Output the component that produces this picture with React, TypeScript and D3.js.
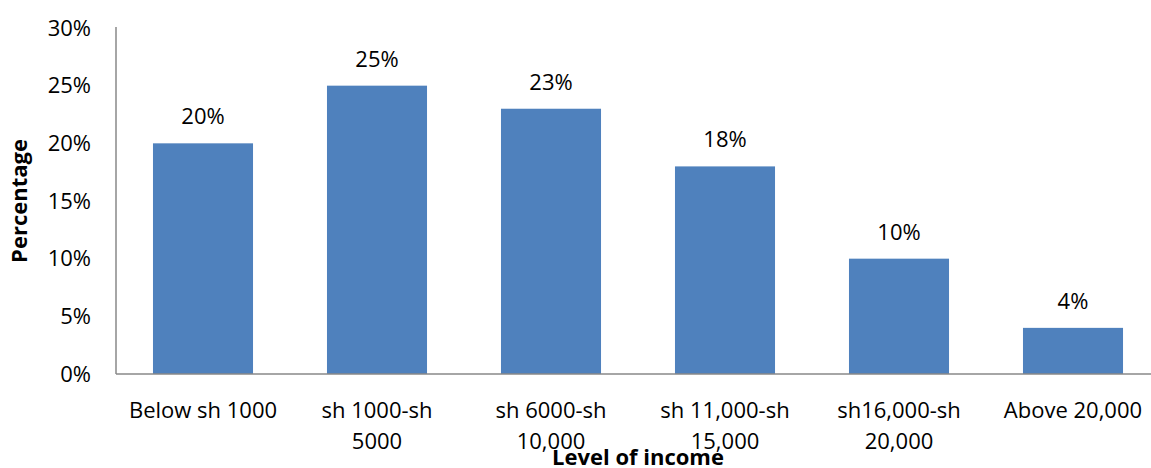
import React from "react";
import * as d3 from "d3";

const categories: string[][] = [
  ["Below sh 1000"],
  ["sh 1000-sh", "5000"],
  ["sh 6000-sh", "10,000"],
  ["sh 11,000-sh", "15,000"],
  ["sh16,000-sh", "20,000"],
  ["Above 20,000"],
];
const values: number[] = [20, 25, 23, 18, 10, 4];
const yTicks: number[] = [0, 5, 10, 15, 20, 25, 30];

const W = 1151;
const H = 468;
const margin = { left: 116, right: 1160, top: 28, bottom: 374 };
const FONT = "'Open Sans', Lato, sans-serif";
const FS = 22;

export default function App() {
  const x = d3
    .scaleBand<number>()
    .domain(d3.range(categories.length))
    .range([margin.left, margin.right])
    .paddingInner(0.425)
    .paddingOuter(0.2125);
  const y = d3.scaleLinear().domain([0, 30]).range([margin.bottom, margin.top]);
  const step = x.step();

  return (
    <svg
      width={W}
      height={H}
      style={{ position: "absolute", left: 0, top: 0, background: "#fff" }}
      fontFamily={FONT}
    >
      {yTicks.map((t) => (
        <text key={t} x={91} y={y(t)} dy="0.35em" textAnchor="end" fontSize={FS} fill="#000">
          {t}%
        </text>
      ))}
      {values.map((v, i) => (
        <rect
          key={i}
          x={x(i)!}
          y={y(v)}
          width={x.bandwidth()}
          height={y(0) - y(v)}
          fill="#4F81BD"
        />
      ))}
      {values.map((v, i) => (
        <text
          key={"l" + i}
          x={x(i)! + x.bandwidth() / 2}
          y={y(v) - 19}
          textAnchor="middle"
          fontSize={FS}
          fill="#000"
        >
          {v}%
        </text>
      ))}
      <line x1={margin.left} x2={margin.left} y1={margin.top - 1} y2={margin.bottom} stroke="#898989" strokeWidth={1.5} />
      <line x1={margin.left} x2={W} y1={margin.bottom} y2={margin.bottom} stroke="#898989" strokeWidth={1.5} />
      {categories.map((lines, i) => (
        <text
          key={"c" + i}
          x={margin.left + step * i + step / 2}
          y={418}
          textAnchor="middle"
          fontSize={FS}
          fill="#000"
        >
          {lines.map((ln, j) => (
            <tspan key={j} x={margin.left + step * i + step / 2} dy={j === 0 ? 0 : 31}>
              {ln}
            </tspan>
          ))}
        </text>
      ))}
      <text x={(margin.left + margin.right) / 2} y={465} textAnchor="middle" fontSize={FS} fontWeight="bold" fill="#000">
        Level of income
      </text>
      <text
        transform={`translate(27, ${(margin.top + margin.bottom) / 2}) rotate(-90)`}
        textAnchor="middle"
        fontSize={FS}
        fontWeight="bold"
        fill="#000"
      >
        Percentage
      </text>
    </svg>
  );
}
